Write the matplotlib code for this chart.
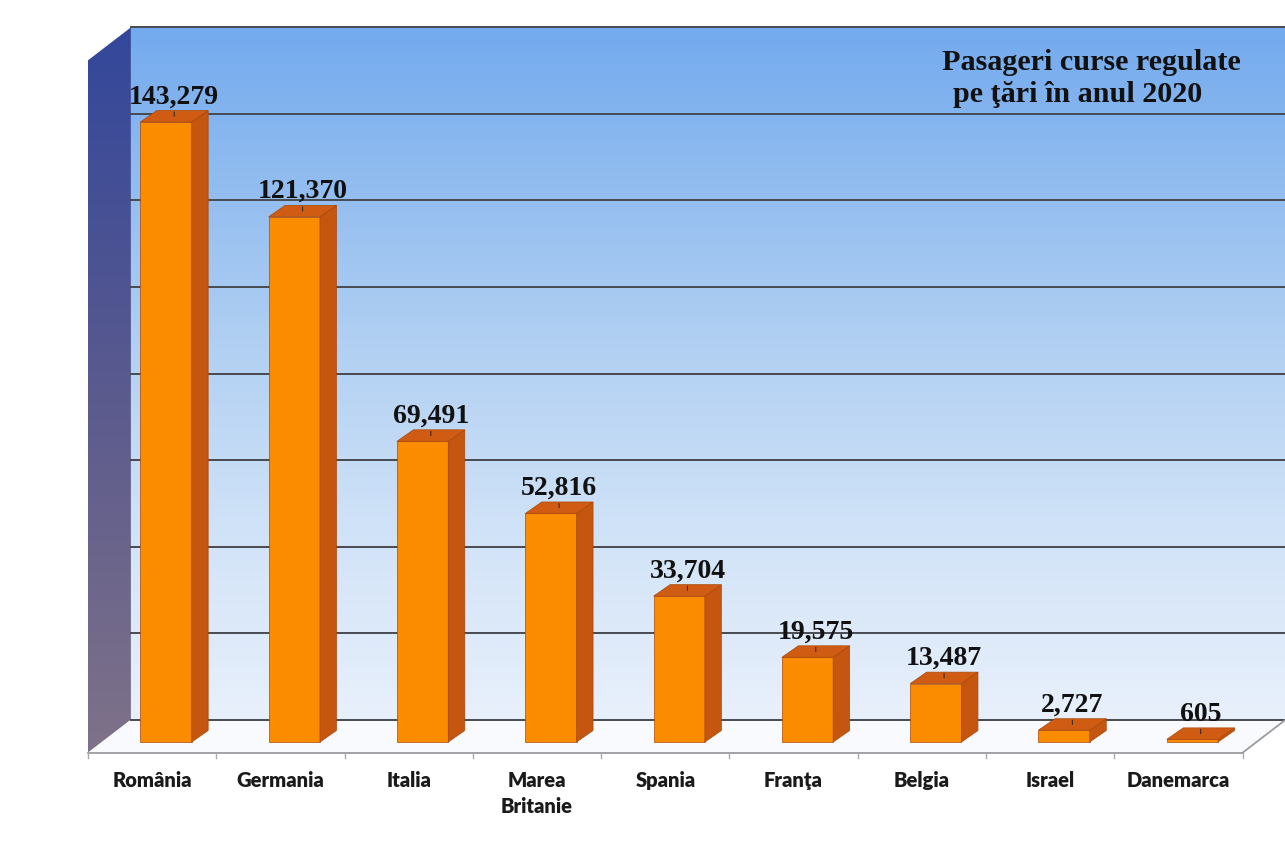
import numpy as np
import matplotlib.pyplot as plt
from matplotlib.patches import Polygon, Rectangle
from matplotlib.colors import LinearSegmentedColormap

# Date: pasageri curse regulate pe tari, 2020
tari = ["România", "Germania", "Italia", "Marea\nBritanie", "Spania",
        "Franţa", "Belgia", "Israel", "Danemarca"]
pasageri = [143279, 121370, 69491, 52816, 33704, 19575, 13487, 2727, 605]
titlu_1 = "Pasageri curse regulate"
titlu_2 = "pe ţări în anul 2020"
v_max = 160000
v_pas = 20000

# Geometria imaginii (pixeli)
W, H = 1285, 867
X0, SX = 166.0, 128.3      # centrul primei bare, pixeli pe categorie
Y0, SY = 742.0, 0.004327   # baza barelor, pixeli pe pasager

# adancimea cutiei 3D si a barelor, in unitati de date
BOX_DX, BOX_DV = 43 / SX, 33 / SY
T_BAR = 10.7 / 33
BAR_DX, BAR_DV = 16.5 / SX, 11.5 / SY
HALF_W = 0.2


def P(x, v, t):
    """Proiectie oblica: t=0 marginea din fata a podelei, t=1 peretele din spate."""
    return (x + (t - T_BAR) * BOX_DX, v + (t - T_BAR) * BOX_DV)


def fill_gradient(ax, pts, colors, zorder):
    pts = np.array(pts)
    poly = Polygon(pts, closed=True, facecolor="none", edgecolor="none")
    ax.add_patch(poly)
    cmap = LinearSegmentedColormap.from_list("g", colors)
    img = ax.imshow(np.linspace(0, 1, 256).reshape(-1, 1), cmap=cmap,
                    extent=[pts[:, 0].min(), pts[:, 0].max(), pts[:, 1].min(), pts[:, 1].max()],
                    origin="lower", aspect="auto", zorder=zorder, interpolation="bilinear")
    img.set_clip_path(poly)


fig = plt.figure(figsize=(W / 100, H / 100), dpi=100)
ax = fig.add_axes([0, 0, 1, 1])
ax.axis("off")

n = len(tari)
x_lo, x_hi = -0.5, n - 0.5

# -------------------------------------------------------------
# Pereti si podea
# -------------------------------------------------------------
back = [P(x_lo, 0, 1), P(x_hi, 0, 1), P(x_hi, v_max, 1), P(x_lo, v_max, 1)]
fill_gradient(ax, back, [(0.0, "#e8f0fb"), (0.25, "#d3e4f8"), (0.55, "#b0cff2"), (1.0, "#73aaee")], 1)

left = [P(x_lo, 0, 0), P(x_lo, 0, 1), P(x_lo, v_max, 1), P(x_lo, v_max, 0)]
fill_gradient(ax, left, [(0.0, "#7f7289"), (0.5, "#5a5a8e"), (1.0, "#33479b")], 1)

floor = [P(x_lo, 0, 0), P(x_hi, 0, 0), P(x_hi, 0, 1), P(x_lo, 0, 1)]
ax.add_patch(Polygon(floor, closed=True, facecolor="#f8fafd", edgecolor="none", zorder=1))

for g in range(0, v_max + 1, v_pas):
    a, b = P(x_lo, g, 1), P(x_hi, g, 1)
    ax.plot([a[0], b[0]], [a[1], b[1]], color="#474a50", lw=1.4, zorder=2)

for seg in [(P(x_lo, 0, 0), P(x_hi, 0, 0)), (P(x_hi, 0, 0), P(x_hi, 0, 1))]:
    ax.plot([seg[0][0], seg[1][0]], [seg[0][1], seg[1][1]], color="#9a9ca0", lw=1.3, zorder=2)

tick_len = 5 / SY
for k in range(n + 1):
    a = P(k - 0.5, 0, 0)
    ax.plot([a[0], a[0]], [a[1], a[1] - tick_len], color="#a8aaae", lw=1.0, zorder=2)

# -------------------------------------------------------------
# Bare 3D
# -------------------------------------------------------------
c_front, c_side, c_top, c_edge = "#fb8c00", "#c4560f", "#d05c14", "#a8480a"
for i, v in enumerate(pasageri):
    xl, xr = i - HALF_W, i + HALF_W
    ax.add_patch(Rectangle((xl, 0), 2 * HALF_W, v, facecolor=c_front,
                           edgecolor=c_edge, lw=0.5, zorder=5))
    side = [(xr, 0), (xr + BAR_DX, BAR_DV), (xr + BAR_DX, v + BAR_DV), (xr, v)]
    ax.add_patch(Polygon(side, closed=True, facecolor=c_side, edgecolor=c_edge, lw=0.5, zorder=5))
    top = [(xl, v), (xr, v), (xr + BAR_DX, v + BAR_DV), (xl + BAR_DX, v + BAR_DV)]
    ax.add_patch(Polygon(top, closed=True, facecolor=c_top, edgecolor=c_edge, lw=0.5, zorder=5))

    ax.annotate(f"{v:,}", xy=(i + BAR_DX / 2, v + BAR_DV / 2), xytext=(0, 9.4),
                textcoords="offset points", ha="center", va="baseline",
                fontfamily="Liberation Serif", fontweight="bold", fontsize=20,
                color="#111111", zorder=7,
                arrowprops=dict(arrowstyle="-", lw=0.8, color="#3a2a20",
                                shrinkA=0, shrinkB=0))

    # etichetele categoriilor, linie cu linie (baseline pe fiecare rand)
    for k, rand in enumerate(tari[i].split("\n")):
        ax.annotate(rand, xy=P(i, 0, 0), xytext=(0, -24.7 - k * 18.7),
                    textcoords="offset points", ha="center", va="baseline",
                    fontfamily="Lato", fontweight="heavy", fontsize=14.5,
                    color="#1a1a1a", zorder=7)

# -------------------------------------------------------------
# Titlu
# -------------------------------------------------------------
fig.text(1091 / W, 1 - 70 / H, titlu_1, ha="center", va="baseline",
         fontfamily="Liberation Serif", fontweight="bold", fontsize=21.7, color="#111111")
fig.text(1078 / W, 1 - 102 / H, titlu_2, ha="center", va="baseline",
         fontfamily="Liberation Serif", fontweight="bold", fontsize=21.7, color="#111111")

ax.set_xlim(-X0 / SX, (W - X0) / SX)
ax.set_ylim(-(H - Y0) / SY, Y0 / SY)

fig.savefig("out.png", dpi=100)
